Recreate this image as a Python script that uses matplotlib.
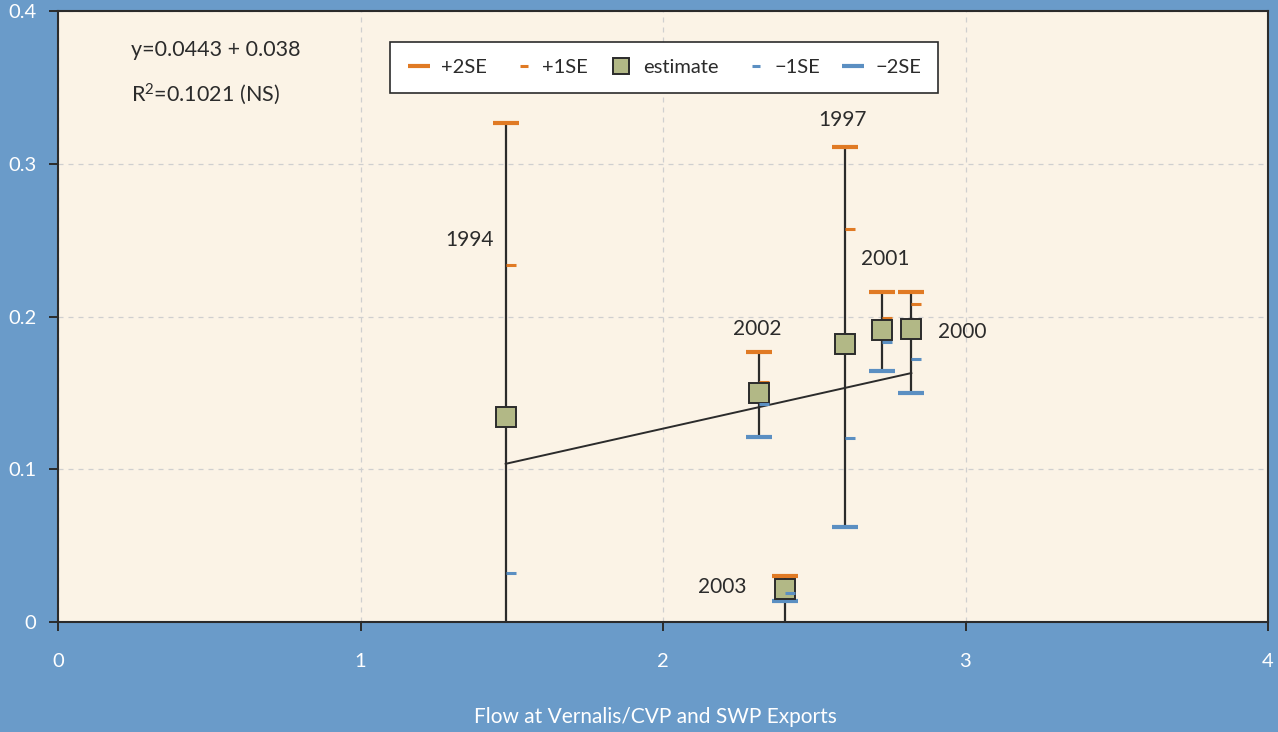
import matplotlib.pyplot as plt
import numpy as np
from matplotlib.path import Path

plt.rcParams['font.family'] = ['Lato', 'DejaVu Sans']
plt.rcParams['mathtext.default'] = 'regular'

# Data
years = ['1994', '2002', '1997', '2001', '2000', '2003']
flow = [1.48, 2.317, 2.602, 2.724, 2.821, 2.404]
estimate = [0.134, 0.150, 0.182, 0.191, 0.1915, 0.0216]
plus2se = [0.327, 0.177, 0.311, 0.216, 0.216, 0.030]
plus1se = [0.234, 0.157, 0.257, 0.199, 0.208, 0.026]
minus1se = [0.032, 0.143, 0.1206, 0.183, 0.1725, 0.0188]
minus2se = [-0.059, 0.121, 0.062, 0.164, 0.150, 0.0137]
whisker_hi = [0.327, 0.177, 0.311, 0.216, 0.216, 0.030]
whisker_lo = [-0.059, 0.121, 0.062, 0.164, 0.150, -0.01]

# regression y = 0.0443x + 0.038
slope, intercept = 0.0443, 0.038

# year label positions (x, y)
label_x = [1.36, 2.31, 2.595, 2.734, 2.99, 2.195]
label_y = [0.250, 0.192, 0.3285, 0.2376, 0.190, 0.023]

orange = '#e07a24'
blue = '#5b8fc2'
dark = '#2b2b2b'

fig = plt.figure(figsize=(12.78, 7.32), dpi=100, facecolor='#6a9bc9')
ax = fig.add_axes([58 / 1278, 1 - 622 / 732, 1210 / 1278, 611 / 732])
ax.set_facecolor('#fbf3e6')

half_dash = Path([(0, 0), (1, 0)], [Path.MOVETO, Path.LINETO])

# whiskers
ax.vlines(flow, whisker_lo, whisker_hi, color=dark, lw=1.6, zorder=2)

# regression line
xr = np.array([min(flow), max(flow)])
ax.plot(xr, intercept + slope * xr, color=dark, lw=1.4, zorder=2)

p2, = ax.plot(flow, plus2se, ls='none', marker='_', ms=19, mew=3,
              color=orange, label='+2SE', zorder=3)
p1, = ax.plot(flow, plus1se, ls='none', marker=half_dash, ms=15, mew=2.2,
              mec=orange, mfc='none', label='+1SE', zorder=3)
m2, = ax.plot(flow, minus2se, ls='none', marker='_', ms=19, mew=3,
              color=blue, label='\u22122SE', zorder=3)
est, = ax.plot(flow, estimate, ls='none', marker='s', ms=14, mfc='#b2b886',
               mec=dark, mew=1.4, label='estimate', zorder=4)
m1, = ax.plot(flow, minus1se, ls='none', marker=half_dash, ms=15, mew=2.2,
              mec=blue, mfc='none', label='\u22121SE', zorder=5)

for yr, lx, ly in zip(years, label_x, label_y):
    ax.text(lx, ly, yr, ha='center', va='center', fontsize=15, color=dark)

ax.text(0.060, 0.936, 'y=0.0443 + 0.038', transform=ax.transAxes,
        fontsize=15.5, color=dark, va='center')
ax.text(0.060, 0.864, 'R$^2$=0.1021 (NS)', transform=ax.transAxes,
        fontsize=15.5, color=dark, va='center')

leg = ax.legend(handles=[p2, p1, est, m1, m2], loc='upper left',
                bbox_to_anchor=(0.274, 0.949), ncol=5, fontsize=14.5,
                frameon=True, fancybox=False, borderaxespad=0,
                columnspacing=1.05, handlelength=1.2, handletextpad=0.5,
                borderpad=0.85, markerscale=0.8, labelcolor=dark)
leg.get_frame().set_edgecolor(dark)
leg.get_frame().set_linewidth(1.2)
leg.get_frame().set_alpha(1)

ax.set_xlim(0, 4)
ax.set_ylim(0, 0.4)
ax.set_xticks([0, 1, 2, 3, 4])
ax.set_xticklabels(['0', '1', '2', '3', '4'])
ax.set_yticks([0, 0.1, 0.2, 0.3, 0.4])
ax.set_yticklabels(['0', '0.1', '0.2', '0.3', '0.4'])
ax.tick_params(axis='both', colors=dark, labelcolor='white', labelsize=14.5,
               length=6.5, width=1.4)
ax.tick_params(axis='x', pad=16)
ax.tick_params(axis='y', pad=9)
ax.grid(True, ls=(0, (4, 4)), color='#cfcfcf', lw=0.9)
for s in ax.spines.values():
    s.set_color(dark)
    s.set_linewidth(1.5)

ax.set_xlabel('Flow at Vernalis/CVP and SWP Exports', fontsize=15, color='white')
ax.xaxis.set_label_coords((655 - 58) / 1210, -(707 - 622) / 611)

fig.savefig('out.png', dpi=100, facecolor=fig.get_facecolor())
